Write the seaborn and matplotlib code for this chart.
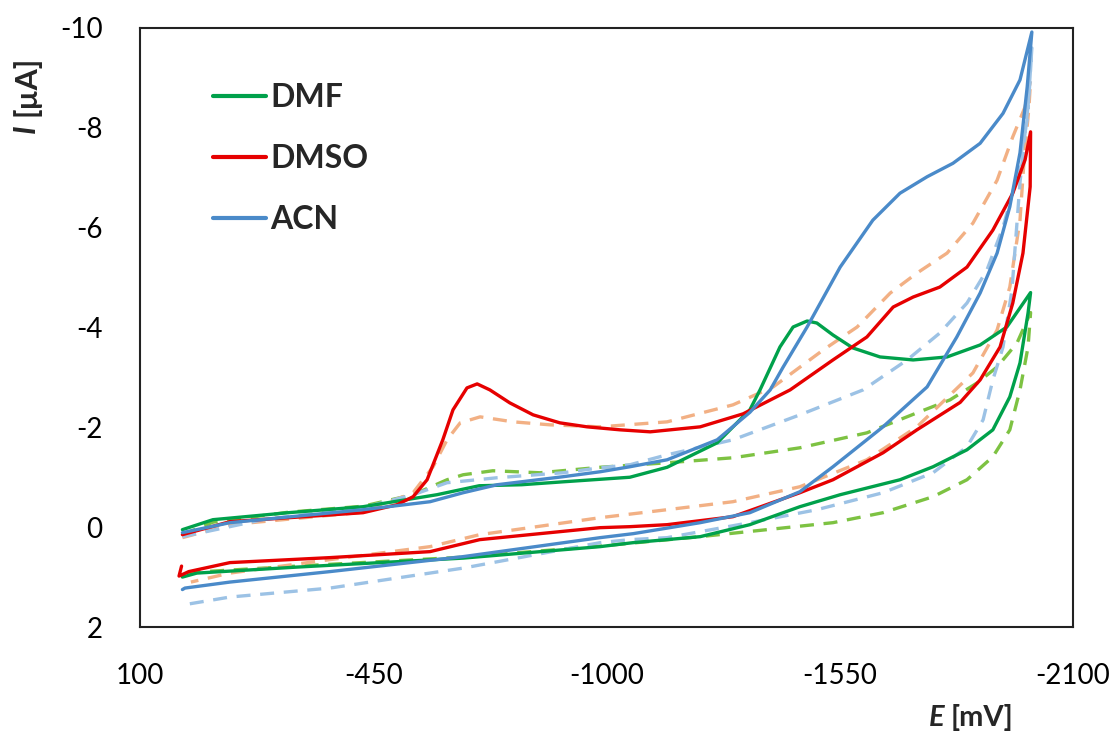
import numpy as np
import pandas as pd
import seaborn as sns
import matplotlib
matplotlib.use("Agg")
import matplotlib.pyplot as plt
from matplotlib.lines import Line2D

# ---------------- data (path order: forward scan then reverse scan) ----------------
dmf_E = [0, -72, -250, -426, -600, -700, -800, -900, -1055, -1143, -1261, -1338, -1362, -1409, -1440,
         -1473, -1496, -1534, -1581, -1645, -1723, -1803, -1881, -1944, -2000,
         -1994, -1975, -1951, -1911, -1850, -1770, -1692, -1551, -1456, -1338, -1221, -1063, -985,
         -662, -270, -34, 0]
dmf_I = [0.05, -0.15, -0.29, -0.41, -0.65, -0.83, -0.85, -0.91, -1.0, -1.2, -1.69, -2.35, -2.75, -3.61, -4.01,
         -4.13, -4.09, -3.85, -3.59, -3.41, -3.35, -3.41, -3.65, -4.01, -4.7,
         -4.29, -3.29, -2.61, -1.95, -1.55, -1.21, -0.95, -0.65, -0.41, -0.05, 0.19, 0.31, 0.39,
         0.62, 0.80, 0.92, 1.0]

dmf2_E = [0, -72, -250, -426, -544, -624, -662, -732, -843, -985, -1143, -1298, -1456, -1614, -1732,
          -1810, -1874, -1921, -1968, -2000,
          -1994, -1975, -1951, -1911, -1850, -1770, -1652, -1534, -1378, -1221, -985, -662, -270, -34, 0]
dmf2_I = [0.15, -0.1, -0.3, -0.42, -0.65, -0.95, -1.05, -1.13, -1.09, -1.2, -1.29, -1.39, -1.59, -1.89, -2.29,
          -2.55, -2.89, -3.21, -3.69, -4.3,
          -3.61, -2.75, -1.95, -1.41, -0.95, -0.61, -0.29, -0.09, 0.05, 0.19, 0.38, 0.6, 0.78, 0.9, 0.98]

dmso_E = [0, -112, -426, -506, -544, -577, -614, -638, -671, -695, -725, -772, -827, -890, -954, -1032,
          -1103, -1221, -1322, -1433, -1534, -1614, -1676, -1723, -1786, -1850, -1911, -1958, -1987, -2000,
          -1999, -1982, -1958, -1928, -1881, -1834, -1732, -1652, -1534, -1456, -1298, -1143, -1055,
          -985, -819, -701, -584, -348, -112, -15, 8, 2]
dmso_I = [0.15, -0.11, -0.29, -0.45, -0.61, -0.95, -1.75, -2.35, -2.79, -2.87, -2.75, -2.49, -2.25, -2.09, -2.01, -1.95,
          -1.91, -2.01, -2.27, -2.75, -3.35, -3.81, -4.41, -4.61, -4.81, -5.21, -5.95, -6.69, -7.36, -7.92,
          -6.82, -5.49, -4.49, -3.61, -2.95, -2.5, -1.95, -1.49, -0.95, -0.69, -0.21, -0.05, -0.01,
          0.01, 0.15, 0.25, 0.49, 0.61, 0.71, 0.89, 0.98, 0.78]

dmso2_E = [0, -112, -426, -544, -591, -624, -655, -702, -780, -867, -985, -1143, -1298, -1393, -1511,
           -1591, -1669, -1732, -1803, -1864, -1921, -1958, -1987, -2000,
           -1996, -1985, -1975, -1951, -1921, -1864, -1732, -1614, -1456, -1298, -1143, -985, -819,
           -701, -584, -348, -112, -20]
dmso2_I = [0.21, -0.05, -0.3, -0.69, -1.21, -1.75, -2.09, -2.21, -2.11, -2.05, -2.01, -2.11, -2.45, -2.81, -3.55,
           -4.01, -4.69, -5.09, -5.49, -6.09, -6.95, -7.82, -8.42, -8.95,
           -8.4, -7.4, -6.15, -4.81, -3.95, -3.09, -2.01, -1.35, -0.81, -0.51, -0.35, -0.19, 0.01,
           0.15, 0.39, 0.65, 0.92, 1.1]

acn_E = [0, -112, -426, -584, -662, -742, -897, -985, -1055, -1143, -1261, -1338, -1386, -1416, -1473,
         -1551, -1628, -1692, -1756, -1817, -1881, -1935, -1975, -2003,
         -1992, -1975, -1951, -1921, -1881, -1826, -1756, -1652, -1534, -1456, -1338, -1221,
         -1063, -985, -662, -348, -112, -6, 0]
acn_I = [0.11, -0.09, -0.35, -0.51, -0.69, -0.85, -1.01, -1.11, -1.21, -1.35, -1.75, -2.3, -2.75, -3.2, -4.01,
         -5.21, -6.15, -6.69, -7.02, -7.29, -7.69, -8.29, -8.96, -9.92,
         -8.82, -7.5, -6.42, -5.49, -4.69, -3.81, -2.81, -2.01, -1.21, -0.71, -0.29, -0.09,
         0.13, 0.21, 0.59, 0.89, 1.1, 1.22, 1.25]

acn2_E = [0, -190, -426, -544, -624, -742, -897, -985, -1055, -1143, -1298, -1456, -1605, -1709, -1786,
          -1850, -1897, -1935, -1968, -1992, -2003,
          -1996, -1987, -1975, -1956, -1935, -1911, -1888, -1850, -1770, -1652, -1496, -1338, -1143,
          -1055, -985, -662, -348, -112, 0]
acn2_I = [0.19, -0.15, -0.39, -0.65, -0.89, -0.99, -1.09, -1.19, -1.25, -1.45, -1.75, -2.25, -2.75, -3.35, -3.89,
          -4.49, -5.15, -6.01, -7.02, -8.16, -9.6,
          -8.6, -7.9, -6.9, -4.75, -3.61, -2.95, -2.15, -1.61, -1.09, -0.69, -0.35, -0.09, 0.21,
          0.25, 0.31, 0.82, 1.22, 1.4, 1.56]

x_ticks = [100, -450, -1000, -1550, -2100]
y_ticks = [2, 0, -2, -4, -6, -8, -10]
legend_labels = ["DMF", "DMSO", "ACN"]

C_DMF, C_DMSO, C_ACN = "#00A14B", "#E60000", "#4A8AC9"
C_DMF2, C_DMSO2, C_ACN2 = "#7DC242", "#F2B084", "#9CC2E5"
DASH = (0, (4.2, 2.9))

series = [
    (dmf2_E, dmf2_I, C_DMF2, DASH),
    (dmso2_E, dmso2_I, C_DMSO2, DASH),
    (acn2_E, acn2_I, C_ACN2, DASH),
    (dmf_E, dmf_I, C_DMF, "-"),
    (dmso_E, dmso_I, C_DMSO, "-"),
    (acn_E, acn_I, C_ACN, "-"),
]

# ---------------- plotting ----------------
sns.set_theme(style="white")
plt.rcParams["font.family"] = ["Lato", "DejaVu Sans"]

fig = plt.figure(figsize=(11.19, 7.33), dpi=100)
ax = fig.add_axes([140 / 1119, 1 - 627 / 733, (1073 - 140) / 1119, (627 - 28) / 733])

for E, I, color, ls in series:
    df = pd.DataFrame({"E": E, "I": I})
    sns.lineplot(data=df, x="E", y="I", sort=False, estimator=None, ax=ax,
                 color=color, linewidth=2.4, linestyle=ls, legend=False)
for line in ax.lines:
    line.set_solid_joinstyle("round")
    line.set_dash_joinstyle("round")

ax.set_xlim(100, -2100)
ax.set_ylim(2, -10)
ax.set_xticks(x_ticks)
ax.set_yticks(y_ticks)
ax.set_xticklabels([str(v) for v in x_ticks])
ax.set_yticklabels([str(v) for v in y_ticks])
ax.tick_params(axis="both", direction="in", length=8, width=1.2, labelsize=20, colors="black")
ax.tick_params(axis="y", pad=27)
ax.tick_params(axis="x", pad=26)
for s in ax.spines.values():
    s.set_visible(True)
    s.set_color("#222222")
    s.set_linewidth(1.5)
ax.set_xlabel("")
ax.set_ylabel("")

# axis titles: italic bold symbol + bold unit
fig.canvas.draw()
r = fig.canvas.get_renderer()
tx = fig.text(1013 / 1119, 1 - 726 / 733, "[mV]", ha="right", va="baseline",
              fontsize=21, fontweight="bold")
bb = tx.get_window_extent(r)
fig.text((bb.x0 - 6) / 1119, 1 - 726 / 733, "E", ha="right", va="baseline",
         fontsize=21, fontweight="bold", fontstyle="italic")

ty = fig.text(12 / 1119, 1 - 56 / 733, "[µA]", ha="right", va="top", rotation=90,
              fontsize=22, fontweight="bold", rotation_mode="anchor")
bb2 = ty.get_window_extent(r)
fig.text(12 / 1119, (bb2.y0 - 8) / 733, "I", ha="right", va="top", rotation=90,
         fontsize=22, fontweight="bold", fontstyle="italic", rotation_mode="anchor")

handles = [Line2D([0], [0], color=c, lw=3) for c in [C_DMF, C_DMSO, C_ACN]]
ax.legend(handles, legend_labels, loc="upper left", bbox_to_anchor=(0.078, 0.908),
          frameon=False, prop={"weight": "bold", "size": 23}, handlelength=1.66,
          handletextpad=0.15, labelspacing=1.0, borderaxespad=0, borderpad=0)

plt.savefig("out.png", dpi=100)
